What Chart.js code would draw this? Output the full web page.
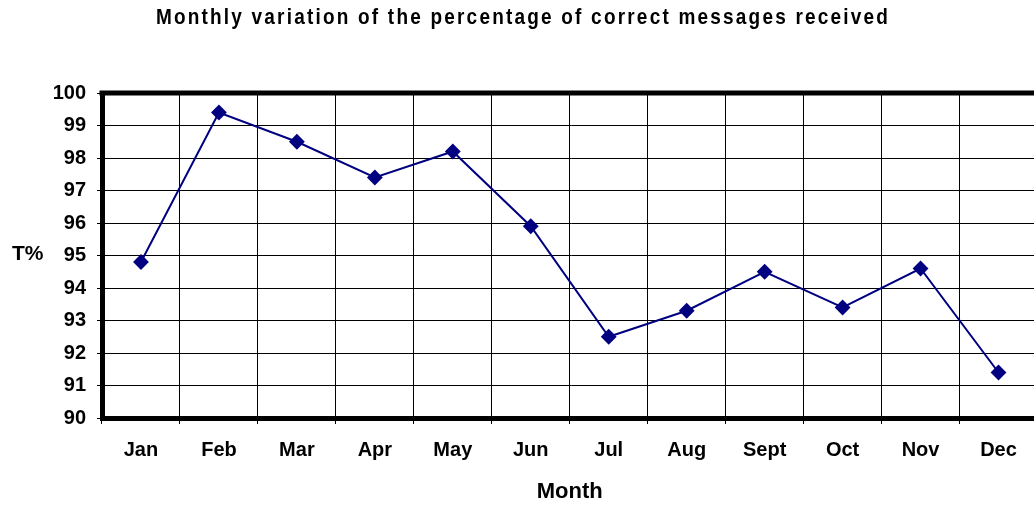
<!DOCTYPE html>
<html>
<head>
<meta charset="utf-8">
<script src="https://cdn.jsdelivr.net/npm/chart.js@4"></script>
<style>
  html, body { margin: 0; padding: 0; background: #fff; overflow: hidden; }
  #wrap { position: relative; width: 1034px; height: 505px; overflow: hidden; }
  #chart { position: absolute; left: 0; top: 0; }
  #title {
    position: absolute; left: 0; top: 4px; width: 1034px; padding-left: 12px; box-sizing: border-box;
    text-align: center; white-space: nowrap;
    font: bold 19px "Liberation Sans", Arial, sans-serif; letter-spacing: 2.2px; color: #000;
    transform: scaleY(1.2); transform-origin: top;
  }
  #ylab {
    position: absolute; left: 12px; top: 241px;
    font: bold 21px "Liberation Sans", Arial, sans-serif; color: #000;
  }
</style>
</head>
<body>
<div id="wrap">
  <canvas id="chart" width="1046" height="505"></canvas>
  <div id="title">Monthly variation of the percentage of correct messages received</div>
  <div id="ylab">T%</div>
</div>
<script>
// data
const months = ['Jan', 'Feb', 'Mar', 'Apr', 'May', 'Jun', 'Jul', 'Aug', 'Sept', 'Oct', 'Nov', 'Dec'];
const correctPct = [94.8, 99.4, 98.5, 97.4, 98.2, 95.9, 92.5, 93.3, 94.5, 93.4, 94.6, 91.4];
const yMin = 90;
const yMax = 100;
const yStep = 1;

const FONT = '"Liberation Sans", Arial, sans-serif';
const tickFont = { family: FONT, size: 20, weight: 'bold' };

// thick frame line along the top of the plot (Excel style box)
const topFrame = {
  id: 'topFrame',
  afterDraw(chart) {
    const { ctx, chartArea } = chart;
    ctx.save();
    ctx.strokeStyle = '#000';
    ctx.lineWidth = 5;
    ctx.beginPath();
    ctx.moveTo(chartArea.left - 2.5, chartArea.top);
    ctx.lineTo(chartArea.right, chartArea.top);
    ctx.stroke();
    ctx.restore();
  }
};

new Chart(document.getElementById('chart').getContext('2d'), {
  type: 'line',
  data: {
    labels: months,
    datasets: [{
      label: 'T%',
      data: correctPct,
      borderColor: '#000080',
      backgroundColor: '#000080',
      borderWidth: 2,
      pointStyle: 'rectRot',
      pointRadius: 6.5,
      pointHoverRadius: 6.5,
      tension: 0,
      fill: false
    }]
  },
  options: {
    responsive: false,
    animation: false,
    layout: { padding: { top: 93, right: 6, left: 0, bottom: 0 } },
    plugins: {
      legend: { display: false },
      title: { display: false },
      tooltip: { enabled: false }
    },
    scales: {
      x: {
        offset: true,
        grid: { offset: true, color: '#000', lineWidth: 1, tickLength: 6, tickColor: '#000' },
        border: { color: '#000', width: 5 },
        ticks: { color: '#000', font: tickFont, padding: 14, maxRotation: 0, autoSkip: false },
        title: {
          display: true, text: 'Month', color: '#000',
          font: { family: FONT, size: 22, weight: 'bold' },
          padding: { top: 0, bottom: 0 }
        },
        afterFit(scale) { scale.height = 87; }
      },
      y: {
        min: yMin,
        max: yMax,
        grid: { color: '#000', lineWidth: 1, tickLength: 5, tickColor: '#000' },
        border: { color: '#000', width: 5 },
        ticks: { stepSize: yStep, color: '#000', font: tickFont, padding: 11 },
        afterFit(scale) { scale.width = 102; }
      }
    }
  },
  plugins: [topFrame]
});
</script>
</body>
</html>
